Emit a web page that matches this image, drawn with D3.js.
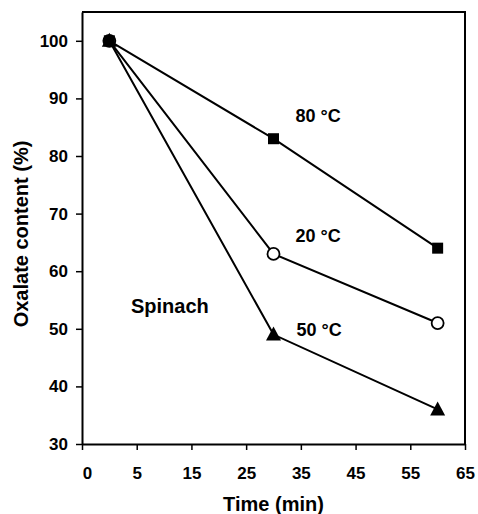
<!DOCTYPE html>
<html>
<head>
<meta charset="utf-8">
<script src="https://cdn.jsdelivr.net/npm/d3@7"></script>
<style>
  body { margin: 0; background: #fff; }
  svg { display: block; font-family: "Liberation Sans", Arial, sans-serif; font-weight: bold; }
</style>
</head>
<body>
<div id="chart"></div>
<script>
// data
const times = [0, 30, 60];
const series = ["20 °C", "80 °C", "50 °C"];   // draw order: circle under square/triangle
const oxalate20 = [100, 63, 51];
const oxalate80 = [100, 83, 64];
const oxalate50 = [100, 49, 36];
const xTicks = [-5, 5, 15, 25, 35, 45, 55, 65];
const xTickLabels = ["0", "5", "15", "25", "35", "45", "55", "65"];
const yTicks = [30, 40, 50, 60, 70, 80, 90, 100];

const width = 478, height = 514;
const margin = {top: 12, right: 13, bottom: 70, left: 82};

const values = {"20 °C": oxalate20, "80 °C": oxalate80, "50 °C": oxalate50};
const rows = series.map(s => ({name: s, pts: times.map((t, i) => [t, values[s][i]])}));

const x = d3.scaleLinear().domain([-5, 65]).range([margin.left, width - margin.right]);
const y = d3.scaleLinear().domain([30, 105]).range([height - margin.bottom, margin.top]);

const svg = d3.select("#chart").append("svg")
    .attr("width", width)
    .attr("height", height);

// frame (top + right)
svg.append("path")
    .attr("d", `M${x(-5)},${y(105)}H${x(65)}V${y(30)}`)
    .attr("fill", "none")
    .attr("stroke", "#000")
    .attr("stroke-width", 2);

const xAxis = svg.append("g")
    .attr("transform", `translate(0,${y(30)})`)
    .call(d3.axisBottom(x).tickValues(xTicks).tickSize(6).tickSizeOuter(0)
        .tickFormat((d, i) => xTickLabels[i]));
xAxis.select(".domain").attr("stroke-width", 2);
xAxis.selectAll(".tick line").attr("stroke-width", 1.5);
xAxis.selectAll("text")
    .attr("font-size", 17).attr("font-family", "inherit").attr("font-weight", "bold")
    .attr("fill", "#000").attr("dy", "1.55em")
    .attr("dx", (d, i) => i === 0 ? 5 : 0);

const yAxis = svg.append("g")
    .attr("transform", `translate(${x(-5)},0)`)
    .call(d3.axisLeft(y).tickValues(yTicks).tickSize(6).tickSizeOuter(0).tickPadding(8));
yAxis.select(".domain").attr("stroke-width", 2);
yAxis.selectAll(".tick line").attr("stroke-width", 1.5);
yAxis.selectAll("text")
    .attr("font-size", 17).attr("font-family", "inherit").attr("font-weight", "bold")
    .attr("fill", "#000");

// lines
const line = d3.line().x(d => x(d[0])).y(d => y(d[1]));
svg.append("g").selectAll("path")
  .data(rows)
  .join("path")
    .attr("d", d => line(d.pts))
    .attr("fill", "none")
    .attr("stroke", "#000")
    .attr("stroke-width", 2);

// markers
const shape = {
  "20 °C": g => g.append("circle").attr("r", 6).attr("fill", "#fff").attr("stroke", "#000").attr("stroke-width", 1.8),
  "80 °C": g => g.append("rect").attr("x", -5.5).attr("y", -5.5).attr("width", 11).attr("height", 11).attr("fill", "#000"),
  "50 °C": g => g.append("path").attr("d", "M0,-8L7.5,6L-7.5,6Z").attr("fill", "#000")
};
rows.forEach(r => {
  svg.append("g").selectAll("g")
    .data(r.pts)
    .join("g")
      .attr("transform", d => `translate(${x(d[0])},${y(d[1])})`)
      .each(function() { shape[r.name](d3.select(this)); });
});

// series labels, offset from the 30 min point
const labelOffset = {"80 °C": [22, -17], "20 °C": [22, -12], "50 °C": [23, 1]};
svg.append("g").selectAll("text")
  .data(rows)
  .join("text")
    .attr("x", d => x(d.pts[1][0]) + labelOffset[d.name][0])
    .attr("y", d => y(d.pts[1][1]) + labelOffset[d.name][1])
    .attr("font-size", 18)
    .text(d => d.name);

svg.append("text")
    .attr("x", 131).attr("y", 313)
    .attr("font-size", 20)
    .text("Spinach");

svg.append("text")
    .attr("x", (x(-5) + x(65)) / 2).attr("y", 511)
    .attr("text-anchor", "middle")
    .attr("font-size", 20)
    .text("Time (min)");

svg.append("text")
    .attr("transform", `translate(28,${(y(30) + y(105)) / 2 + 6}) rotate(-90)`)
    .attr("text-anchor", "middle")
    .attr("font-size", 20)
    .text("Oxalate content (%)");
</script>
</body>
</html>
